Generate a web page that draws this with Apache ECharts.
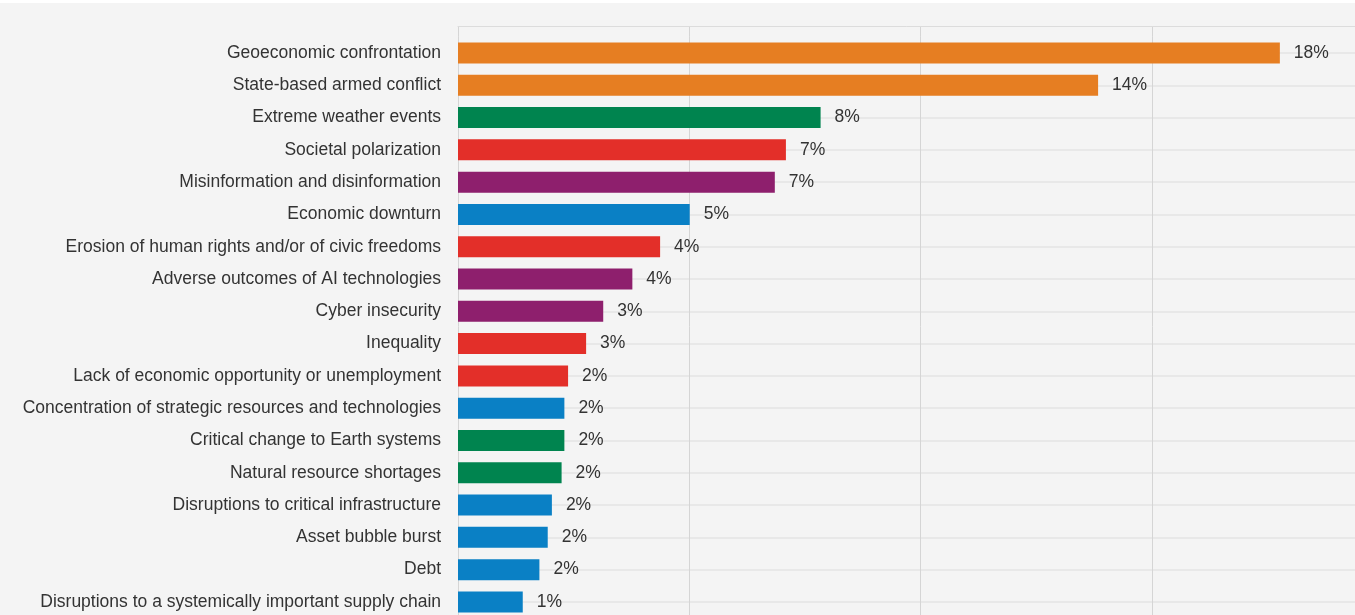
<!DOCTYPE html>
<html>
<head>
<meta charset="utf-8">
<script src="https://cdn.jsdelivr.net/npm/echarts@6/dist/echarts.min.js"></script>
<style>
html, body { margin: 0; padding: 0; background: #fff; }
#chartBar {
  position: absolute;
  left: 0;
  top: 3px;
  width: 1355px;
  height: 612px;
  background-color: #f4f4f4;
}
</style>
</head>
<body>
<div id="chartBar"></div>
<script>
const categories = [
  'Geoeconomic confrontation',
  'State-based armed conflict',
  'Extreme weather events',
  'Societal polarization',
  'Misinformation and disinformation',
  'Economic downturn',
  'Erosion of human rights and/or of civic freedoms',
  'Adverse outcomes of AI technologies',
  'Cyber insecurity',
  'Inequality',
  'Lack of economic opportunity or unemployment',
  'Concentration of strategic resources and technologies',
  'Critical change to Earth systems',
  'Natural resource shortages',
  'Disruptions to critical infrastructure',
  'Asset bubble burst',
  'Debt',
  'Disruptions to a systemically important supply chain'
]
// share of respondents, %
const values = [17.77, 13.84, 7.84, 7.09, 6.85, 5.01, 4.37, 3.77, 3.14, 2.77, 2.38, 2.3, 2.3, 2.24, 2.03, 1.94, 1.76, 1.4]
const valueLabels = ['18%', '14%', '8%', '7%', '7%', '5%', '4%', '4%', '3%', '3%', '2%', '2%', '2%', '2%', '2%', '2%', '2%', '1%']
const riskTypes = [
  'geopolitical', 'geopolitical', 'environmental', 'societal', 'technological',
  'economic', 'societal', 'technological', 'technological', 'societal',
  'societal', 'economic', 'environmental', 'environmental', 'economic',
  'economic', 'economic', 'economic'
]
const xTicks = [0, 5, 10, 15, 20]

const typeColors = {
  economic: '#0a80c5',
  environmental: '#00844f',
  geopolitical: '#e67e22',
  societal: '#e32f29',
  technological: '#8e1f6d'
}

const rowH = 32.29
const gridTop = 50 - rowH / 2
const font = '"Liberation Sans", Arial, Helvetica, sans-serif'

const option = {
  animation: false,
  grid: [
    { left: 458, width: 925, top: gridTop, height: rowH * categories.length, outerBoundsMode: 'none' },
    { left: 458, width: 925, top: 23, height: gridTop - 23, outerBoundsMode: 'none' }
  ],
  xAxis: [
    {
      type: 'value',
      gridIndex: 0,
      min: xTicks[0],
      max: xTicks[xTicks.length - 1],
      interval: xTicks[1] - xTicks[0],
      axisLine: { show: false },
      axisTick: { show: false },
      axisLabel: { show: false },
      splitLine: { show: true, lineStyle: { color: '#d5d5d5', width: 1 } }
    },
    {
      // thin strip above the first row: top border and gridline stubs
      type: 'value',
      gridIndex: 1,
      position: 'top',
      min: xTicks[0],
      max: xTicks[xTicks.length - 1],
      interval: xTicks[1] - xTicks[0],
      axisLine: { show: true, onZero: false, lineStyle: { color: '#dcdcdc', width: 1 } },
      axisTick: { show: false },
      axisLabel: { show: false },
      splitLine: { show: true, lineStyle: { color: '#d5d5d5', width: 1 } }
    }
  ],
  yAxis: [
    {
      type: 'category',
      gridIndex: 0,
      inverse: true,
      data: categories,
      axisLine: { show: false },
      axisTick: { show: false },
      axisLabel: {
        margin: 17,
        color: '#333',
        fontSize: 17.5,
        fontFamily: font
      },
      splitLine: {
        show: true,
        alignWithLabel: true,
        lineStyle: { color: '#e4e4e4', width: 1.5 }
      }
    },
    {
      type: 'value',
      gridIndex: 1,
      show: false
    }
  ],
  series: [
    {
      type: 'bar',
      xAxisIndex: 0,
      yAxisIndex: 0,
      barWidth: 21,
      data: values.map((v, i) => ({
        value: v,
        itemStyle: { color: typeColors[riskTypes[i]] }
      })),
      label: {
        show: true,
        position: 'right',
        distance: 14,
        color: '#333',
        fontSize: 17.5,
        fontFamily: font,
        formatter: (p) => valueLabels[p.dataIndex]
      }
    }
  ]
}

const myChart = echarts.init(document.getElementById('chartBar'))
myChart.setOption(option)
window.addEventListener('resize', () => {
  myChart.resize()
})
</script>
</body>
</html>
